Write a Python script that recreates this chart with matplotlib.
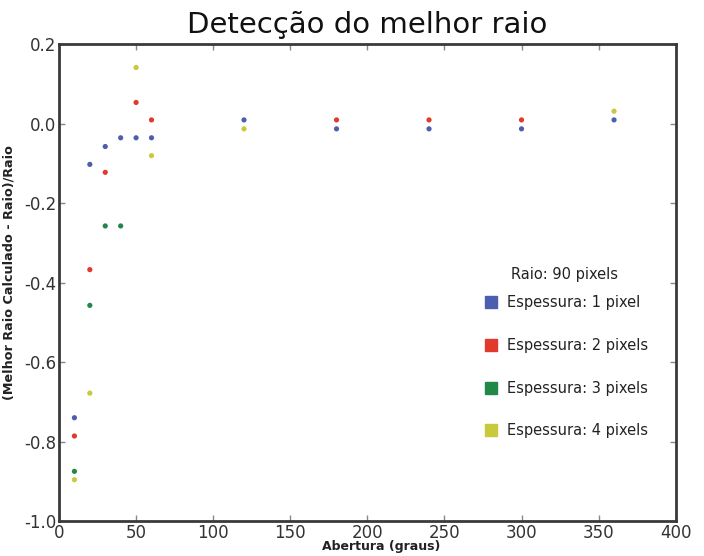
import matplotlib
matplotlib.use("Agg")
import matplotlib.pyplot as plt
from matplotlib.lines import Line2D

title = "Detecção do melhor raio"
xlabel = "Abertura (graus)"
ylabel = "(Melhor Raio Calculado - Raio)/Raio"
legend_title = "Raio: 90 pixels"

labels = ["Espessura: 1 pixel", "Espessura: 2 pixels", "Espessura: 3 pixels", "Espessura: 4 pixels"]
colors = ["#4c5eae", "#e2392d", "#22884a", "#c9c93c"]

x_e1 = [10, 20, 30, 40, 50, 60, 120, 180, 240, 300, 360]
y_e1 = [-0.740, -0.102, -0.057, -0.035, -0.035, -0.035, 0.010, -0.0125, -0.0125, -0.0125, 0.010]

x_e2 = [10, 20, 30, 50, 60, 180, 240, 300]
y_e2 = [-0.786, -0.367, -0.122, 0.054, 0.010, 0.010, 0.010, 0.010]

x_e3 = [10, 20, 30, 40]
y_e3 = [-0.875, -0.457, -0.257, -0.257]

x_e4 = [10, 20, 50, 60, 120, 360]
y_e4 = [-0.896, -0.678, 0.142, -0.080, -0.0125, 0.032]

xticks = [0, 50, 100, 150, 200, 250, 300, 350, 400]
yticks = [0.2, 0.0, -0.2, -0.4, -0.6, -0.8, -1.0]

fig = plt.figure(figsize=(7.04, 5.56), dpi=100)
ax = fig.add_axes([0.0838, 0.063, 0.876, 0.857])

series = [(x_e4, y_e4, colors[3]), (x_e3, y_e3, colors[2]),
          (x_e2, y_e2, colors[1]), (x_e1, y_e1, colors[0])]
for xs, ys, c in series:
    ax.scatter(xs, ys, s=14, color=c, edgecolors="none", zorder=3)

ax.set_xlim(0, 400)
ax.set_ylim(-1.0, 0.2)
ax.set_xticks(xticks)
ax.set_yticks(yticks)
ax.set_xticklabels([str(t) for t in xticks])
ax.set_yticklabels([f"{t:.1f}" for t in yticks])
ax.tick_params(direction="in", length=4, width=1, color="#888888",
               top=True, right=True, labelsize=12, labelcolor="#333333", pad=2)
for sp in ax.spines.values():
    sp.set_linewidth(2)
    sp.set_color("#3a3a3a")

ax.set_xlabel(xlabel, fontsize=9, fontweight="bold", color="#222222")
ax.xaxis.set_label_coords(0.522, -0.040)
ax.set_ylabel(ylabel, fontsize=9.2, fontweight="bold", color="#222222")
ax.yaxis.set_label_coords(-0.071, 0.522)
fig.suptitle(title, fontsize=21, x=0.521, y=1 - 33 / 556, va="baseline", color="#111111")

ax.text(0.820, 0.517, legend_title, transform=ax.transAxes, ha="center", va="center",
        fontsize=10.5, color="#222222")
handles = [Line2D([], [], linestyle="none", marker="s", markersize=9,
                  markerfacecolor=c, markeredgecolor=c) for c in colors]
leg = ax.legend(handles, labels, loc="center",
                bbox_to_anchor=(0.822, 0.3235), frameon=False,
                fontsize=10.5, labelspacing=1.9,
                handletextpad=0.6, handlelength=1.0)
for t in leg.get_texts():
    t.set_color("#222222")

fig.savefig("out.png", dpi=100)
